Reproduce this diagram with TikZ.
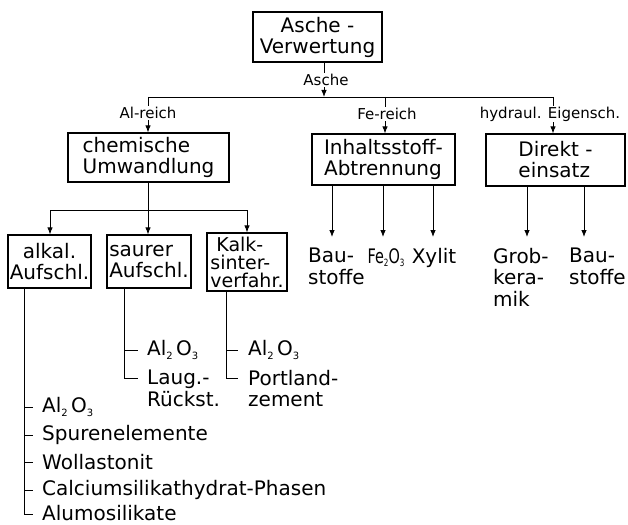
\documentclass[tikz,border=0pt]{standalone}
\usepackage{fontspec}
\usepackage{graphicx}
\setmainfont{DejaVu Sans}
\usetikzlibrary{arrows.meta}
\newcommand{\mysub}[1]{\raisebox{-3.5pt}{\fontsize{10}{10}\selectfont #1}}
\begin{document}
\begin{tikzpicture}[x=1pt,y=-1pt,
  box/.style={draw,line width=1.3pt,inner sep=0pt,font=\fontsize{20}{21}\selectfont},
  lbl/.style={fill=white,inner sep=1pt,font=\fontsize{15}{17}\selectfont},
  txt/.style={inner sep=0pt,align=left,font=\fontsize{20}{21.5}\selectfont},
  conn/.style={line width=0.8pt},
  arr/.style={line width=0.8pt,-{Latex[length=7pt,width=5.5pt]}}]
\useasboundingbox (0,0) rectangle (628,524);
% boxes
\node[box,minimum width=129pt,minimum height=50pt,align=center] (asche) at (317.5,37) {Asche -\\Verwertung};
\node[box,minimum width=161pt,minimum height=49pt,align=left] (chem) at (148.5,157.5) {chemische\\Umwandlung};
\node[box,minimum width=143pt,minimum height=51pt,align=left] (inh) at (383.5,159.5) {Inhaltsstoff-\\Abtrennung};
\node[box,minimum width=139pt,minimum height=52pt,align=left] (dir) at (555.5,160) {Direkt -\\einsatz};
\node[box,minimum width=83pt,minimum height=53pt,align=center] (alk) at (49.5,261.5) {alkal.\\Aufschl.};
\node[box,minimum width=84pt,minimum height=53pt,align=left] (sau) at (149,261.5) {saurer\\Aufschl.};
\node[box,minimum width=80pt,minimum height=58pt,align=left,font=\fontsize{19}{18}\selectfont] (kalk) at (247,262) {\hspace*{6pt}Kalk-\\sinter-\\verfahr.};
% top distribution
\coordinate (hub) at (324,97);
\coordinate (hL) at (148,97);
\coordinate (hF) at (385,97);
\coordinate (hR) at (553,97);
\draw[arr] (asche.south -| hub) -- (hub);
\node[lbl] (lasche) at (326,80) {Asche};
\draw[conn] (hL) -- (hR);
\draw[arr] (hL) -- (chem.north -| hL);
\draw[arr] (hF) -- (inh.north -| hF);
\draw[arr] (hR) -- (dir.north -| hR);
\node[lbl] (lal) at (148,113) {Al-reich};
\node[lbl] (lfe) at (387,114) {Fe-reich};
\node[lbl] (lhy) at (550,114) {hydraul. Eigensch.};
% chemische Umwandlung
\coordinate (cj) at (148,210);
\coordinate (cL) at (50,210);
\coordinate (cR) at (247,210);
\draw[arr] (chem.south -| cj) -- (sau.north -| cj);
\draw[conn] (cL) -- (cR);
\draw[arr] (cL) -- (alk.north -| cL);
\draw[arr] (cR) -- (kalk.north -| cR);
% Inhaltsstoff outputs
\node[txt,anchor=north west] (bau1) at (308,248) {Bau-\\stoffe};
\node[txt,anchor=north] (fe) at (386,248) {\scalebox{0.72}[1]{Fe\mysub{2}O\mysub{3}}};
\node[txt,anchor=north] (xy) at (434,248) {Xylit};
\coordinate (i1) at (332,237);
\coordinate (i2) at (383,237);
\coordinate (i3) at (433,237);
\draw[arr] (inh.south -| i1) -- (i1);
\draw[arr] (inh.south -| i2) -- (i2);
\draw[arr] (inh.south -| i3) -- (i3);
% Direkteinsatz outputs
\node[txt,anchor=north west] (grob) at (493,248) {Grob-\\kera-\\mik};
\node[txt,anchor=north west] (bau2) at (569,248) {Bau-\\stoffe};
\coordinate (d1) at (527,237);
\coordinate (d2) at (584,237);
\draw[arr] (dir.south -| d1) -- (d1);
\draw[arr] (dir.south -| d2) -- (d2);
% alkal. Aufschl. list
\node[txt,anchor=west] (a1) at (42,407) {Al\mysub{2}\,O\mysub{3}};
\node[txt,anchor=west] (a2) at (42,435) {Spurenelemente};
\node[txt,anchor=west] (a3) at (42,462) {Wollastonit};
\node[txt,anchor=west] (a4) at (42,490) {Calciumsilikathydrat-Phasen};
\node[txt,anchor=west] (a5) at (42,513) {Alumosilikate};
\coordinate (ax) at (24,514);
\draw[conn] (alk.south -| ax) |- ([xshift=-9pt]a5.west |- ax);
\foreach \n in {a1,a2,a3,a4} \draw[conn] (\n.west -| ax) -- ([xshift=-9pt]\n.west);
% saurer Aufschl. list
\node[txt,anchor=west] (s1) at (147,350) {Al\mysub{2}\,O\mysub{3}};
\node[txt,anchor=north west] (s2) at (147,370) {Laug.-\\Rückst.};
\coordinate (sx) at (124,378);
\draw[conn] (sau.south -| sx) |- ([xshift=-9pt]s2.west |- sx);
\draw[conn] (s1.west -| sx) -- ([xshift=-9pt]s1.west);
% Kalksinter list
\node[txt,anchor=west] (k1) at (248,350) {Al\mysub{2}\,O\mysub{3}};
\node[txt,anchor=north west] (k2) at (248,370) {Portland-\\zement};
\coordinate (kx) at (226,378);
\draw[conn] (kalk.south -| kx) |- ([xshift=-10pt]k2.west |- kx);
\draw[conn] (k1.west -| kx) -- ([xshift=-10pt]k1.west);
\end{tikzpicture}
\end{document}
